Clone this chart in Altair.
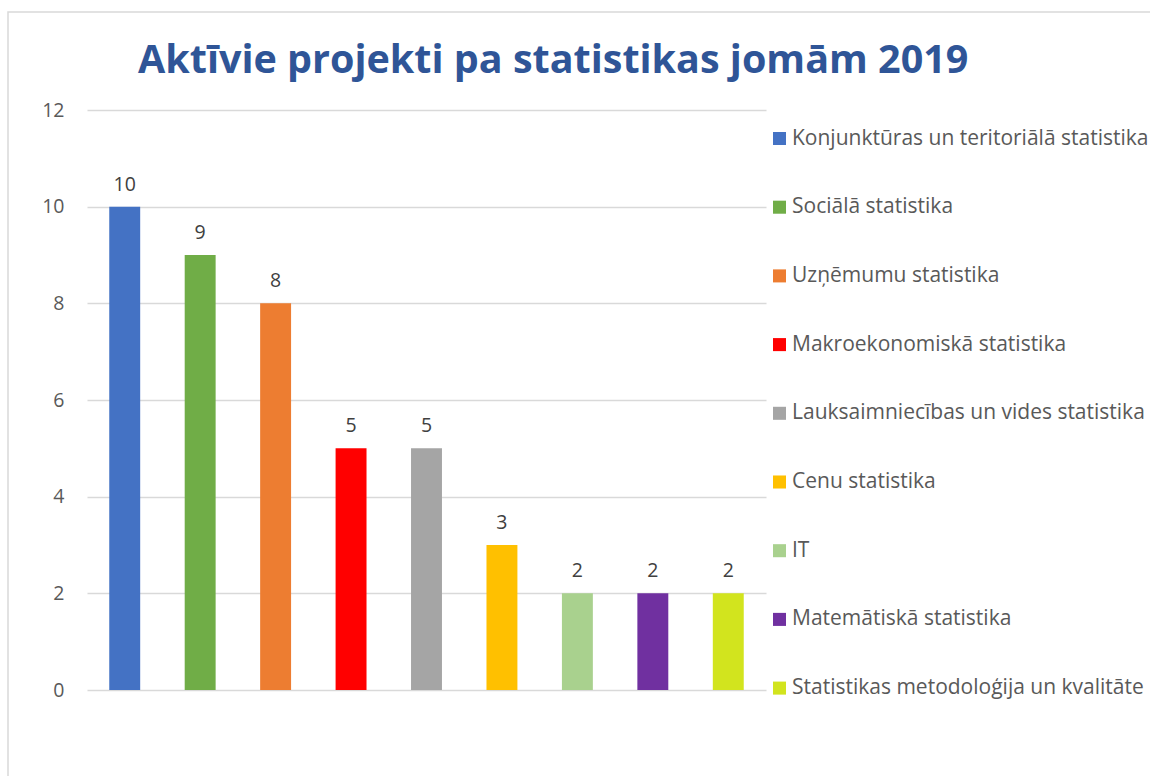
import altair as alt
import pandas as pd

categories = [
    "Konjunktūras un teritoriālā statistika",
    "Sociālā statistika",
    "Uzņēmumu statistika",
    "Makroekonomiskā statistika",
    "Lauksaimniecības un vides statistika",
    "Cenu statistika",
    "IT",
    "Matemātiskā statistika",
    "Statistikas metodoloģija un kvalitāte",
]
values = [10, 9, 8, 5, 5, 3, 2, 2, 2]
colors = ["#4472C4", "#70AD47", "#ED7D31", "#FF0000", "#A5A5A5",
          "#FFC000", "#A9D18E", "#7030A0", "#D2E41E"]
y_ticks = [0, 2, 4, 6, 8, 10, 12]
title_text = "Aktīvie projekti pa statistikas jomām 2019"

df = pd.DataFrame({"Joma": categories, "Projekti": values})

W, H = 679, 580
FONT = "Open Sans"

x_enc = alt.X("Joma:N", sort=categories, axis=None,
              scale=alt.Scale(paddingInner=0.59, paddingOuter=0.295))
y_scale = alt.Scale(domain=[0, 12], nice=False)

bars = alt.Chart(df).mark_bar().encode(
    x=x_enc,
    y=alt.Y("Projekti:Q", scale=y_scale,
            axis=alt.Axis(values=y_ticks, domain=False, ticks=False, title=None,
                          grid=True, gridColor="#D9D9D9", gridWidth=1.5,
                          labelFont=FONT, labelFontSize=19.5, labelColor="#595959",
                          labelPadding=23)),
    color=alt.Color("Joma:N", sort=categories,
                    scale=alt.Scale(domain=categories, range=colors),
                    legend=alt.Legend(title=None, orient="none", legendX=682, legendY=18,
                                      symbolType="square", symbolSize=170,
                                      symbolStrokeWidth=0,
                                      labelFont=FONT, labelFontSize=21, labelColor="#595959",
                                      labelLimit=500, rowPadding=46.7, labelOffset=2)),
)

labels = alt.Chart(df).mark_text(dy=-12, baseline="bottom", font=FONT, fontSize=19.5,
                                 color="#404040").encode(
    x=x_enc,
    y=alt.Y("Projekti:Q", scale=y_scale),
    text="Projekti:Q",
)

border = alt.Chart(pd.DataFrame({"b": [1]})).mark_rect(
    fill=None, stroke="#D9D9D9", strokeWidth=1.5).encode(
    x=alt.value(-79), x2=alt.value(1100), y=alt.value(-98), y2=alt.value(700))

chart = alt.layer(border, bars, labels).properties(
    width=W, height=H,
    title=alt.Title(title_text, font=FONT, fontSize=39.5, fontWeight="bold",
                    color="#2F5597", anchor="start", dx=51, offset=0, dy=101,
                    frame="group", baseline="alphabetic"),
    autosize=alt.AutoSizeParams(type="none"),
    padding={"left": 87, "top": 110, "right": 384, "bottom": 86},
).configure_view(stroke=None)

chart.save("out.html", embed_options={"renderer": "svg", "actions": False})
